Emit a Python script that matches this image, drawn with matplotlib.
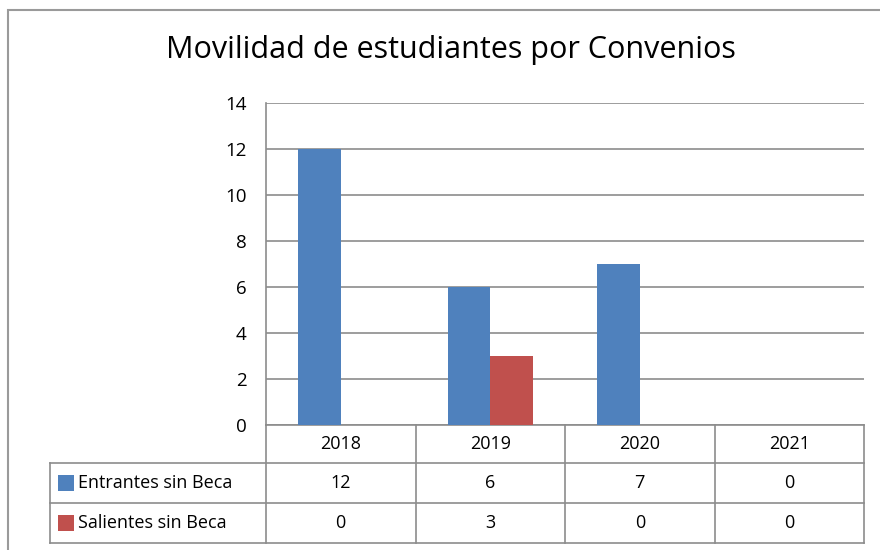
import matplotlib
matplotlib.use("Agg")
import matplotlib.pyplot as plt
import numpy as np
from matplotlib.patches import Rectangle
from matplotlib.lines import Line2D

# ==================== data ====================
years = ['2018', '2019', '2020', '2021']
series_names = ['Entrantes sin Beca', 'Salientes sin Beca']
entrantes = [12, 6, 7, 0]
salientes = [0, 3, 0, 0]
colors = ['#4F81BD', '#C0504D']
yticks = [0, 2, 4, 6, 8, 10, 12, 14]

plt.rcParams['font.family'] = ['Open Sans', 'DejaVu Sans']
grid_c = '#8c8c8c'

W, H = 880, 550
fig = plt.figure(figsize=(W / 100, H / 100), dpi=100)

# outer chart border
fig.patches.append(Rectangle((8 / W, -0.05), 1.2, 1 - 10 / H + 0.05,
                             transform=fig.transFigure, fill=False,
                             edgecolor='#9a9a9a', lw=1.5))

fig.text(451 / W, 1 - 50 / H, 'Movilidad de estudiantes por Convenios',
         ha='center', va='center', fontsize=22, color='black')

# plot area (pixels)
px_l, px_r, px_t, px_b = 266, 864, 103, 425
ax = fig.add_axes([px_l / W, 1 - px_b / H, (px_r - px_l) / W, (px_b - px_t) / H])

x = np.arange(len(years))
bw = 0.285
ax.bar(x - bw / 2, entrantes, bw, color=colors[0], zorder=3)
ax.bar(x + bw / 2, salientes, bw, color=colors[1], zorder=3)

ax.set_xlim(-0.5, len(years) - 0.5)
ax.set_ylim(0, 14)
ax.set_yticks(yticks)
ax.set_yticklabels([str(t) for t in yticks], fontsize=13.5)
ax.set_xticks([])
ax.tick_params(axis='y', length=0, pad=14)
ax.yaxis.grid(True, color=grid_c, lw=1.2, zorder=0)
for s in ['top', 'right', 'bottom']:
    ax.spines[s].set_visible(False)
ax.spines['left'].set_color(grid_c)
ax.spines['left'].set_linewidth(1.2)

# ==================== data table ====================
plot_h = px_b - px_t
plot_w = px_r - px_l
def ay(py):
    return (px_b - py) / plot_h
def ax_x(pxx):
    return (pxx - px_l) / plot_w

rows_y = [425, 463, 503, 543]
tbl_left = 50
kw = dict(transform=ax.transAxes, clip_on=False, color=grid_c, lw=1.2)
fs_tbl = 13

# horizontal lines
ax.add_line(Line2D([0, 1], [ay(425), ay(425)], **kw))
for py in rows_y[1:]:
    ax.add_line(Line2D([ax_x(tbl_left), 1], [ay(py), ay(py)], **kw))
# vertical lines
col_edges = [ax_x(px_l + i * plot_w / len(years)) for i in range(len(years) + 1)]
for i, cx in enumerate(col_edges):
    ax.add_line(Line2D([cx, cx], [ay(425), ay(543)], **kw))
ax.add_line(Line2D([ax_x(tbl_left)] * 2, [ay(463), ay(543)], **kw))

# header labels
for i, yr in enumerate(years):
    cx = (col_edges[i] + col_edges[i + 1]) / 2
    ax.text(cx, ay(444), yr, transform=ax.transAxes, ha='center', va='center',
            fontsize=fs_tbl)

# rows
for r, (name, vals) in enumerate(zip(series_names, [entrantes, salientes])):
    cy = ay((rows_y[r + 1] + rows_y[r + 2]) / 2)
    sq = 16
    ax.add_patch(Rectangle((ax_x(58), cy - (sq / 2) / plot_h), sq / plot_w, sq / plot_h,
                           transform=ax.transAxes, clip_on=False,
                           facecolor=colors[r], edgecolor='none'))
    ax.text(ax_x(78), cy, name, transform=ax.transAxes, ha='left', va='center',
            fontsize=fs_tbl)
    for i, v in enumerate(vals):
        cx = (col_edges[i] + col_edges[i + 1]) / 2
        ax.text(cx, cy, str(v), transform=ax.transAxes, ha='center', va='center',
                fontsize=fs_tbl)

fig.savefig('out.png', dpi=100)
